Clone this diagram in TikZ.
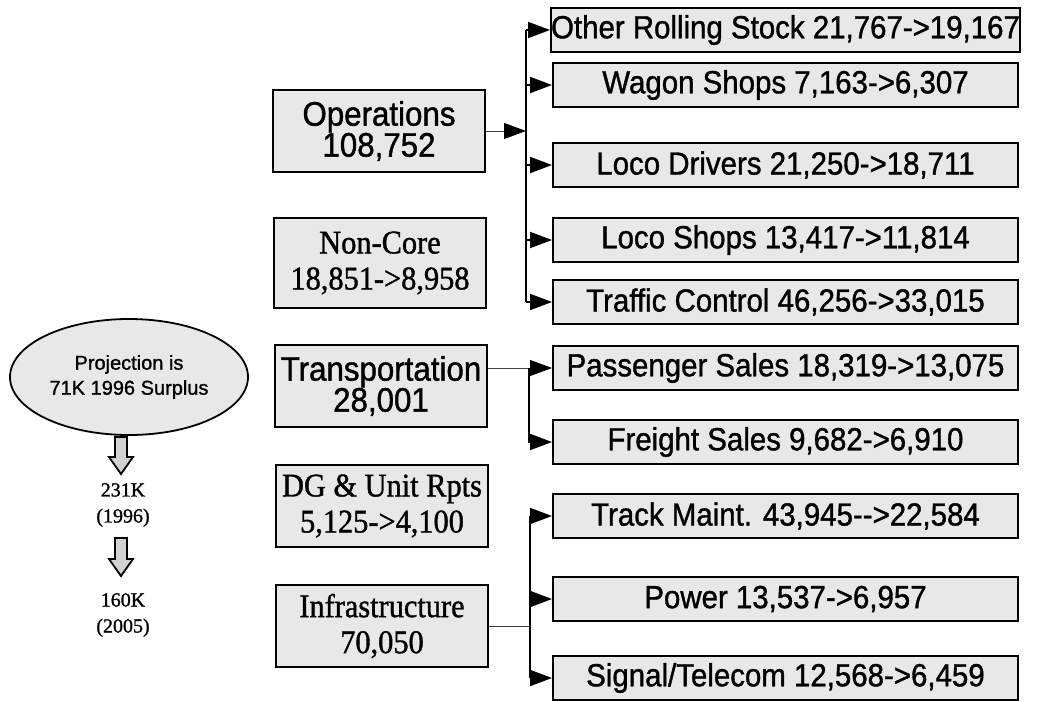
\documentclass[tikz,border=0pt]{standalone}
\usepackage{fontspec}
\setmainfont{Liberation Serif}[FakeBold=1.2]
\newfontfamily\arialf{Liberation Sans}[FakeBold=1.2]
\usetikzlibrary{arrows.meta,shapes.geometric}
\newcommand{\nx}[1]{\scalebox{0.92}[1]{#1}}
\tikzset{
  boxfill/.style={fill=gray!18},
  rbox/.style={draw, line width=2pt, boxfill, minimum width=465pt, minimum height=44pt,
    inner sep=0pt, font=\arialf\fontsize{32}{34}\selectfont},
  lbox/.style={draw, line width=2pt, boxfill, minimum width=212pt, minimum height=82pt,
    inner sep=0pt, align=center},
  lsans/.style={font=\arialf\fontsize{34}{31}\selectfont},
  lserif/.style={font=\fontsize{33}{36}\selectfont},
  feed/.style={line width=1pt, black!75},
  bus/.style={line width=2pt, black},
  tip/.style={-{Triangle[length=22pt,width=16pt,color=black]}},
  blk/.style={draw=black, line width=1.8pt, fill=gray!35},
}
\begin{document}
\begin{tikzpicture}[x=1pt,y=-1pt]
\useasboundingbox (0,0) rectangle (1043,701);
\fill[white] (0,0) rectangle (1043,701);

% left column
\node[ellipse, draw, line width=1.8pt, boxfill, minimum width=238pt, minimum height=116pt,
  inner sep=0pt, align=center, font=\arialf\fontsize{20}{25}\selectfont] (proj) at (129,377)
  {Projection is\\71K 1996 Surplus};
\draw[blk] (115,437) -- (127,437) -- (127,457) -- (133,457) -- (121,474) -- (109,457) -- (115,457) -- cycle;
\node[align=center, font=\fontsize{20}{26}\selectfont] (y96) at (123,505) {231K\\(1996)};
\draw[blk] (115,538) -- (127,538) -- (127,559) -- (133,559) -- (121,576) -- (109,559) -- (115,559) -- cycle;
\node[align=center, font=\fontsize{20}{26}\selectfont] (y05) at (123,615) {160K\\(2005)};

% middle column
\node[lbox, lsans] (ops) at (379,131) {\nx{Operations}\\\nx{108,752}};
\node[lbox, lserif, minimum height=90pt] (nco) at (380,263) {\nx{Non-Core}\\\nx{18,851->8,958}};
\node[lbox, lsans] (tra) at (381,386) {\nx{Transportation}\\\nx{28,001}};
\node[lbox, lserif] (dgu) at (382,506) {\nx{DG \& Unit Rpts}\\\nx{5,125->4,100}};
\node[lbox, lserif] (inf) at (382,626) {\nx{Infrastructure}\\\nx{70,050}};

% right column
\node[rbox] (ors) at (785.5,30) {\nx{Other Rolling Stock 21,767->19,167}};
\node[rbox] (wag) at (785.5,85) {\nx{Wagon Shops 7,163->6,307}};
\node[rbox] (lcd) at (785.5,165) {\nx{Loco Drivers 21,250->18,711}};
\node[rbox] (lcs) at (785.5,240) {\nx{Loco Shops 13,417->11,814}};
\node[rbox] (trf) at (785.5,302) {\nx{Traffic Control 46,256->33,015}};
\node[rbox] (pas) at (785.5,368) {\nx{Passenger Sales 18,319->13,075}};
\node[rbox] (frt) at (785.5,442) {\nx{Freight Sales 9,682->6,910}};
\node[rbox] (trk) at (785.5,516) {\nx{Track Maint. 43,945-->22,584}};
\node[rbox] (pow) at (785.5,599) {\nx{Power 13,537->6,957}};
\node[rbox] (sig) at (785.5,678) {\nx{Signal/Telecom 12,568->6,459}};

% operations connectors
\coordinate (ob) at (526,131);
\draw[feed, tip] (ops.east) -- (ob);
\draw[bus] (ob |- ors.west) -- (ob |- trf.west);
\foreach \n in {ors,wag,lcd,lcs,trf}
  \draw[bus, tip] (ob |- \n.west) -- (\n.west);

% transportation connectors
\coordinate (tb) at (529,368);
\draw[feed, tip] (tra.east |- pas.west) -- (pas.west);
\draw[bus, tip] (tb |- pas.west) |- (frt.west);

% infrastructure connectors
\coordinate (ib) at (530,626);
\draw[feed] (inf.east) -- (ib);
\draw[bus] (ib |- trk.west) -- (ib |- sig.west);
\foreach \n in {trk,pow,sig}
  \draw[bus, tip] (ib |- \n.west) -- (\n.west);
\end{tikzpicture}
\end{document}
